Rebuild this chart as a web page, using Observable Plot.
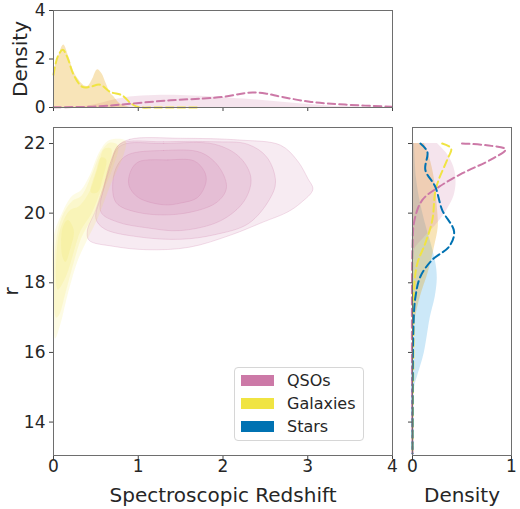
<!DOCTYPE html>
<html><head><meta charset="utf-8">
<script src="https://cdn.jsdelivr.net/npm/d3@7"></script>
<script src="https://cdn.jsdelivr.net/npm/@observablehq/plot@0.6"></script>
<style>
html,body{margin:0;padding:0;background:#fff;}
#wrap{position:relative;width:520px;height:509px;font-family:"DejaVu Sans",sans-serif;}
#wrap svg{position:absolute;left:0;top:0;}
.legend{position:absolute;left:234px;top:367px;width:130px;height:74px;border:1px solid #d6d6d6;border-radius:4px;background:rgba(255,255,255,0.85);box-sizing:border-box;font-size:16px;color:#262626;}
.row{position:absolute;left:6px;height:20px;display:flex;align-items:center;white-space:nowrap;}
.sw{width:33px;height:11px;margin-right:13px;}
</style></head><body><div id="wrap"></div>
<script>
// ---- categories / colours ----
const classes = ["QSOs", "Galaxies", "Stars"];
const classColors = ["#cc79a7", "#f0e442", "#0072b2"];
const fillGal = "#e69f00", fillStar = "#56b4e9";

// ---- ticks ----
const xTicks = [0, 1, 2, 3, 4];
const rTicks = [14, 16, 18, 20, 22];
const densTopTicks = [0, 2, 4];
const densRightTicks = [0, 1];

// ---- joint KDE contours, QSOs (redshift, r), outer -> inner ----
const qsoL1 = [[0.75,21.9],[0.9,22.12],[1.5,22.15],[2.2,22.1],[2.68,21.95],[2.88,21.5],[3.0,21.0],[3.06,20.68],[2.92,20.3],[2.76,20.03],[2.48,19.75],[2.09,19.37],[1.6,19.02],[1.1,18.95],[0.7,19.05],[0.42,19.22],[0.4,19.5],[0.5,20.1],[0.62,21.0]];
const qsoL2 = [[0.78,21.98],[1.3,22.05],[1.9,22.05],[2.29,21.98],[2.52,21.6],[2.62,20.9],[2.55,20.4],[2.3,19.7],[1.9,19.38],[1.5,19.25],[1.0,19.32],[0.6,19.55],[0.5,19.85],[0.58,20.6],[0.68,21.4]];
const qsoL3 = [[0.8,21.95],[1.3,22.0],[1.9,21.98],[2.2,21.6],[2.33,21.0],[2.25,20.35],[1.97,19.78],[1.5,19.5],[1.1,19.58],[0.75,19.75],[0.56,20.03],[0.6,20.8],[0.68,21.5]];
const qsoL4 = [[0.88,21.68],[1.3,21.8],[1.74,21.74],[1.96,21.3],[2.04,20.72],[1.92,20.3],[1.5,19.98],[1.0,20.02],[0.74,20.3],[0.7,20.9],[0.76,21.4]];
const qsoL5 = [[1.0,21.47],[1.35,21.53],[1.66,21.5],[1.78,21.2],[1.8,20.9],[1.7,20.45],[1.5,20.29],[1.3,20.24],[1.0,20.45],[0.89,20.8],[0.91,21.2]];

// ---- joint KDE contours, Galaxies ----
const galL1 = [[0.02,16.4],[0.0,17.5],[0.0,19.3],[0.1,20.0],[0.22,20.5],[0.32,20.65],[0.42,21.05],[0.55,21.8],[0.66,22.1],[0.85,22.08],[0.83,21.7],[0.67,20.8],[0.52,19.85],[0.4,19.25],[0.28,18.6],[0.16,17.6],[0.08,16.8]];
const galL2 = [[0.03,17.0],[0.02,19.0],[0.1,19.9],[0.22,20.35],[0.33,20.5],[0.45,21.1],[0.56,21.75],[0.66,22.02],[0.76,21.95],[0.7,21.3],[0.58,20.6],[0.45,19.85],[0.33,19.3],[0.24,18.6],[0.14,17.7],[0.07,17.1]];
const galL3 = [[0.05,17.8],[0.05,19.2],[0.12,19.8],[0.2,20.1],[0.3,20.2],[0.42,20.6],[0.52,21.3],[0.6,21.85],[0.68,21.85],[0.64,21.2],[0.55,20.6],[0.45,20.0],[0.32,19.5],[0.24,18.9],[0.15,18.2]];
const galL4a = [[0.44,20.6],[0.5,21.2],[0.56,21.6],[0.62,21.55],[0.58,21.0],[0.52,20.6]];
const galL4b = [[0.1,18.8],[0.11,19.6],[0.17,19.8],[0.24,19.5],[0.2,19.0],[0.14,18.6]];

// ---- top marginal (redshift, density) ----
const topGalFill = [[0,1.45],[0.05,2.0],[0.12,2.58],[0.18,2.1],[0.24,1.47],[0.3,1.13],[0.36,0.9],[0.41,0.88],[0.46,1.15],[0.52,1.56],[0.57,1.4],[0.62,1.0],[0.67,0.6],[0.71,0.45],[0.77,0.2],[0.83,0.08],[0.9,0]];
const topQsoFill = [[0.3,0],[0.5,0.12],[0.7,0.3],[0.9,0.43],[1.2,0.5],[1.5,0.5],[1.8,0.45],[2.1,0.38],[2.5,0.28],[2.9,0.15],[3.3,0.05],[3.7,0.01],[4,0]];
const topGalLine = [[0,1.35],[0.05,2.1],[0.11,2.38],[0.16,2.1],[0.24,1.33],[0.34,0.85],[0.43,0.85],[0.55,0.94],[0.67,0.64],[0.81,0.5],[0.91,0.18],[1.0,0.02],[1.2,0],[1.7,0]];
const topQsoLine = [[0,0.01],[0.5,0.04],[0.95,0.17],[1.38,0.3],[1.77,0.37],[2.01,0.44],[2.2,0.56],[2.35,0.62],[2.5,0.58],[2.69,0.44],[3.04,0.23],[3.44,0.12],[3.99,0.03]];

// ---- right marginal (density, r) ----
const rightStarFill = [[0.02,22],[0.04,21.0],[0.08,20.3],[0.14,19.6],[0.2,19.0],[0.24,18.5],[0.25,18.1],[0.23,17.6],[0.18,17.0],[0.12,16.0],[0.05,15.3],[0.02,15.0],[0.01,14.4],[0,13.5]];
const rightGalFill = [[0.12,22],[0.15,21.8],[0.2,21.3],[0.23,20.8],[0.25,20.2],[0.26,19.6],[0.22,19.0],[0.16,18.3],[0.08,17.6],[0.03,17.0],[0,16.4]];
const rightQsoFill = [[0.25,22],[0.35,21.7],[0.42,21.3],[0.44,20.9],[0.42,20.5],[0.35,20.1],[0.25,19.7],[0.12,19.3],[0.03,19.0],[0,18.7]];
const rightQsoLine = [[0.5,22.0],[0.75,21.95],[0.94,21.83],[0.8,21.55],[0.5,21.14],[0.27,20.76],[0.1,20.38],[0.02,19.8],[0,19.0],[0,13.1]];
const rightGalLine = [[0.3,22.0],[0.39,21.86],[0.35,21.53],[0.27,21.0],[0.23,20.62],[0.2,19.8],[0.13,19.14],[0.05,18.57],[0.02,18.0],[0.01,16.2],[0,13.1]];
const rightStarLine = [[0.08,22.0],[0.15,21.76],[0.13,21.24],[0.23,20.76],[0.3,20.09],[0.42,19.47],[0.37,19.04],[0.2,18.66],[0.08,18.18],[0.03,17.6],[0.01,16.8],[0,13.1]];

// ---- build ----
(function () {
const W = 520, H = 509;
const rDomain = [13.04, 22.46];
const base = {width: W, height: H, style: {background: "transparent", fontFamily: "DejaVu Sans, sans-serif", fontSize: "17px", color: "#262626", overflow: "visible"}};
const fx = d => d[0], fy = d => d[1];
const fmt = d => String(d);
const frameStroke = "#6e6e6e";
const dash = {strokeWidth: 2, strokeDasharray: "7.5,4", curve: "catmull-rom"};

const poly = (p, color, op, strokeOp) => Plot.line(p, {x: fx, y: fy, curve: "catmull-rom-closed", fill: color, fillOpacity: op, stroke: strokeOp ? color : "none", strokeOpacity: strokeOp || 0, strokeWidth: 0.8});

const mainPlot = Plot.plot({...base,
  marginLeft: 53, marginRight: 128, marginTop: 127, marginBottom: 54,
  x: {domain: [0, 4]}, y: {domain: rDomain},
  marks: [
    ...[qsoL1, qsoL2, qsoL3, qsoL4, qsoL5].map(p => poly(p, classColors[0], 0.15, 0.3)),
    ...[galL1, galL2, galL3, galL4a, galL4b].map(p => poly(p, classColors[1], 0.14, 0)),
    Plot.axisX({ticks: xTicks, tickFormat: fmt, tickSize: 4, tickPadding: 0, label: null, stroke: "#444"}),
    Plot.axisY({ticks: rTicks, tickFormat: fmt, tickSize: 4, tickPadding: 4, label: null, stroke: "#444"}),
    Plot.frame({stroke: frameStroke}),
    Plot.text(["Spectroscopic Redshift"], {frameAnchor: "bottom", textAnchor: "middle", lineAnchor: "top", dy: 32, fontSize: 20}),
    Plot.text(["r"], {frameAnchor: "left", textAnchor: "middle", dx: -42, rotate: -90, fontSize: 20})
  ]
});

const topPlot = Plot.plot({...base,
  marginLeft: 53, marginRight: 128, marginTop: 10, marginBottom: 402,
  x: {domain: [0, 4]}, y: {domain: [0, 4]},
  marks: [
    Plot.areaY(topQsoFill, {x: fx, y: fy, fill: classColors[0], fillOpacity: 0.2, curve: "catmull-rom"}),
    Plot.areaY(topGalFill, {x: fx, y: fy, fill: fillGal, fillOpacity: 0.28, curve: "catmull-rom"}),
    Plot.lineY(topGalLine, {x: fx, y: fy, stroke: classColors[1], ...dash}),
    Plot.lineY(topQsoLine, {x: fx, y: fy, stroke: classColors[0], ...dash}),
    Plot.axisX({ticks: xTicks, tickSize: 4, tickFormat: () => "", label: null, stroke: "#444"}),
    Plot.axisY({ticks: densTopTicks, tickFormat: fmt, tickSize: 4, tickPadding: 4, label: null, stroke: "#444"}),
    Plot.frame({stroke: frameStroke}),
    Plot.text(["Density"], {frameAnchor: "left", textAnchor: "middle", dx: -33, rotate: -90, fontSize: 20})
  ]
});

const rightPlot = Plot.plot({...base,
  marginLeft: 412, marginRight: 9, marginTop: 127, marginBottom: 54,
  x: {domain: [0, 1]}, y: {domain: rDomain},
  marks: [
    Plot.areaX(rightStarFill, {x: fx, y: fy, fill: fillStar, fillOpacity: 0.3, curve: "catmull-rom"}),
    Plot.areaX(rightGalFill, {x: fx, y: fy, fill: fillGal, fillOpacity: 0.28, curve: "catmull-rom"}),
    Plot.areaX(rightQsoFill, {x: fx, y: fy, fill: classColors[0], fillOpacity: 0.2, curve: "catmull-rom"}),
    Plot.lineX(rightQsoLine, {x: fx, y: fy, stroke: classColors[0], ...dash}),
    Plot.lineX(rightGalLine, {x: fx, y: fy, stroke: classColors[1], ...dash}),
    Plot.lineX(rightStarLine, {x: fx, y: fy, stroke: classColors[2], ...dash}),
    Plot.axisX({ticks: densRightTicks, tickFormat: fmt, tickSize: 4, tickPadding: 0, label: null, stroke: "#444"}),
    Plot.axisY({ticks: rTicks, tickSize: 4, tickFormat: () => "", label: null, stroke: "#444"}),
    Plot.frame({stroke: frameStroke}),
    Plot.text(["Density"], {frameAnchor: "bottom", textAnchor: "middle", lineAnchor: "top", dy: 32, fontSize: 20})
  ]
});

const wrap = document.getElementById("wrap");
wrap.append(topPlot, mainPlot, rightPlot);

// legend
const leg = document.createElement("div");
leg.className = "legend";
classes.forEach((c, i) => {
  const row = document.createElement("div");
  row.className = "row";
  row.style.top = (2 + i * 23) + "px";
  const sw = document.createElement("span");
  sw.className = "sw";
  sw.style.background = classColors[i];
  const t = document.createElement("span");
  t.textContent = c;
  row.append(sw, t);
  leg.append(row);
});
wrap.append(leg);
})();
</script></body></html>
